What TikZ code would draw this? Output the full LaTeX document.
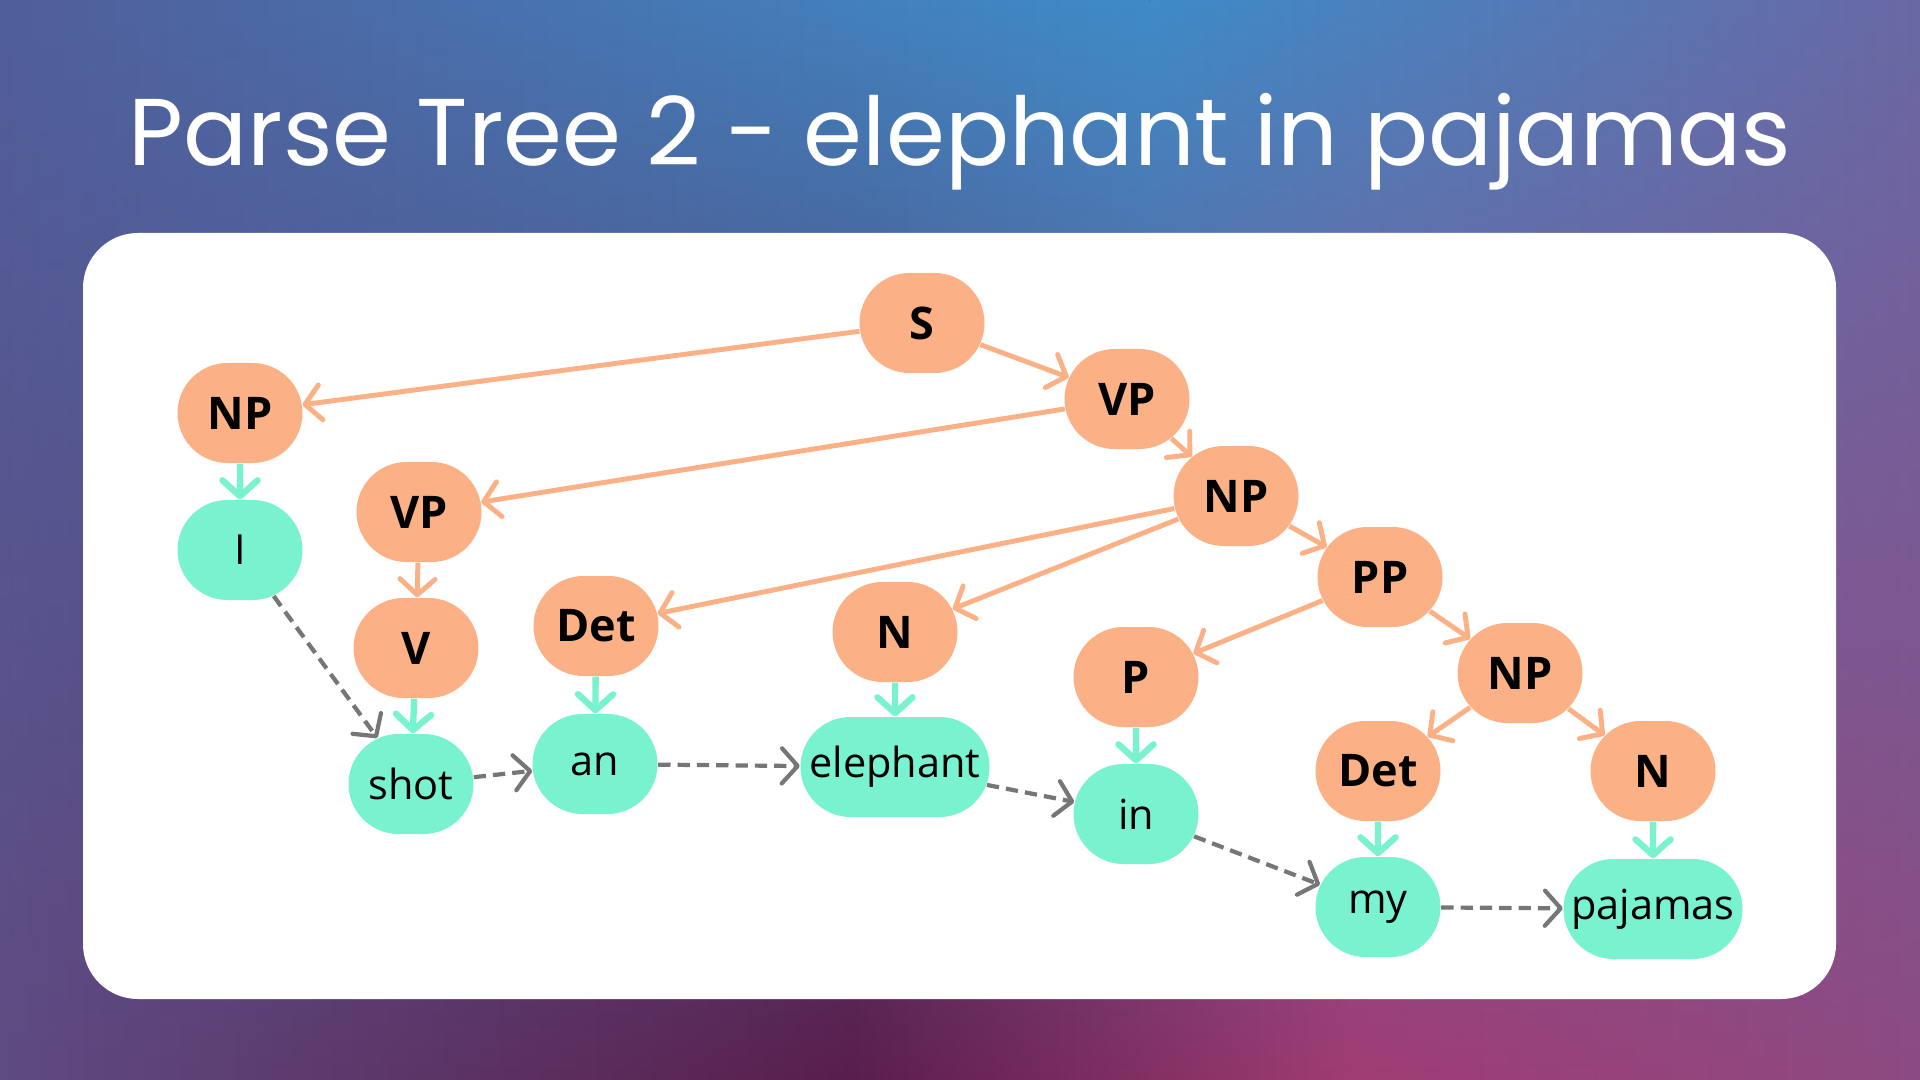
\documentclass[tikz,border=0pt]{standalone}
\usepackage{fontspec}
\setmainfont{Open Sans}
\newfontfamily\titlefont{Poppins}
\usetikzlibrary{arrows.meta, fadings, shapes.misc}

\definecolor{phrasecol}{RGB}{251,177,133}
\definecolor{wordcol}{RGB}{121,242,208}
\definecolor{seqcol}{RGB}{118,118,118}
\definecolor{bgTa}{RGB}{80,95,155}
\definecolor{bgTb}{RGB}{62,140,200}
\definecolor{bgTc}{RGB}{105,105,165}
\definecolor{bgBa}{RGB}{95,75,130}
\definecolor{bgBb}{RGB}{90,30,75}
\definecolor{bgBc}{RGB}{160,60,115}
\definecolor{bgBd}{RGB}{140,75,130}

\begin{document}
\begin{tikzpicture}[>={Straight Barb[round,length=4.5pt,width=10pt]},
	phrase/.style={rounded rectangle, fill=phrasecol, minimum width=1.25cm, minimum height=1cm, inner sep=0pt, font=\fontsize{12.8}{14}\selectfont\bfseries},
	word/.style={rounded rectangle, fill=wordcol, minimum width=1.25cm, minimum height=1cm, inner sep=0pt, font=\fontsize{11.8}{14}\selectfont},
	branch/.style={->, phrasecol, line width=1.4pt},
	leaf/.style={->, wordcol, line width=1.8pt},
	seq/.style={->, seqcol, line width=1.2pt, dash pattern=on 3.5pt off 2pt}]
	\useasboundingbox (0,0) rectangle (19.2,-10.8);
	
	% 1. 背景渐变
	\shade[left color=bgBa, right color=bgBb] (0,0) rectangle (8.5,-10.8);
	\shade[left color=bgBb, right color=bgBc] (8.5,0) rectangle (13.5,-10.8);
	\shade[left color=bgBc, right color=bgBd] (13.5,0) rectangle (19.2,-10.8);
	\shade[left color=bgTa, right color=bgTb, path fading=south] (0,0) rectangle (11.5,-10.8);
	\shade[left color=bgTb, right color=bgTc, path fading=south] (11.5,0) rectangle (19.2,-10.8);
	
	% 2. 标题与白色面板
	\node[text=white, anchor=base, font=\titlefont\fontsize{27}{30}\selectfont] (T) at (9.6,-1.66) {Parse Tree 2 - elephant in pajamas};
	\fill[white, rounded corners=0.55cm] (0.83,-2.33) rectangle (18.36,-9.99);
	
	% 3. 短语节点
	\node[phrase] (S) at (9.22,-3.23) {S};
	\node[phrase] (VP) at (11.27,-3.99) {VP};
	\node[phrase] (NPa) at (2.40,-4.13) {NP};
	\node[phrase] (VPb) at (4.19,-5.12) {VP};
	\node[phrase] (NPb) at (12.36,-4.96) {NP};
	\node[phrase] (PP) at (13.80,-5.77) {PP};
	\node[phrase] (V) at (4.16,-6.48) {V};
	\node[phrase] (Deta) at (5.96,-6.26) {Det};
	\node[phrase] (Na) at (8.95,-6.32) {N};
	\node[phrase] (P) at (11.36,-6.77) {P};
	\node[phrase] (NPc) at (15.20,-6.73) {NP};
	\node[phrase] (Detb) at (13.78,-7.71) {Det};
	\node[phrase] (Nb) at (16.53,-7.71) {N};
	
	% 4. 词节点
	\node[word] (I) at (2.40,-5.50) {I};
	\node[word] (shot) at (4.11,-7.84) {shot};
	\node[word] (an) at (5.95,-7.64) {an};
	\node[word, minimum width=1.89cm] (elephant) at (8.95,-7.67) {elephant};
	\node[word] (in) at (11.36,-8.14) {in};
	\node[word] (my) at (13.78,-9.07) {my};
	\node[word, minimum width=1.79cm] (pajamas) at (16.53,-9.09) {pajamas};
	
	% 5. 树的分支
	\draw[branch] (S) -- (NPa);
	\draw[branch] (S) -- (VP);
	\draw[branch] (VP) -- (VPb);
	\draw[branch] (VP) -- (NPb);
	\draw[branch] (VPb) -- (V);
	\draw[branch] (NPb) -- (Deta);
	\draw[branch] (NPb) -- (Na);
	\draw[branch] (NPb) -- (PP);
	\draw[branch] (PP) -- (P);
	\draw[branch] (PP) -- (NPc);
	\draw[branch] (NPc) -- (Detb);
	\draw[branch] (NPc) -- (Nb);
	
	% 词性到单词
	\draw[leaf] (NPa) -- (I);
	\draw[leaf] (V) -- (shot);
	\draw[leaf] (Deta) -- (an);
	\draw[leaf] (Na) -- (elephant);
	\draw[leaf] (P) -- (in);
	\draw[leaf] (Detb) -- (my);
	\draw[leaf] (Nb) -- (pajamas);
	
	% 6. 单词顺序 (虚线)
	\draw[seq] (I) -- (shot);
	\draw[seq] (shot) -- (an);
	\draw[seq] (an) -- (elephant);
	\draw[seq] (elephant) -- (in);
	\draw[seq] (in) -- (my);
	\draw[seq] (my) -- (pajamas);
	
\end{tikzpicture}
\end{document}
